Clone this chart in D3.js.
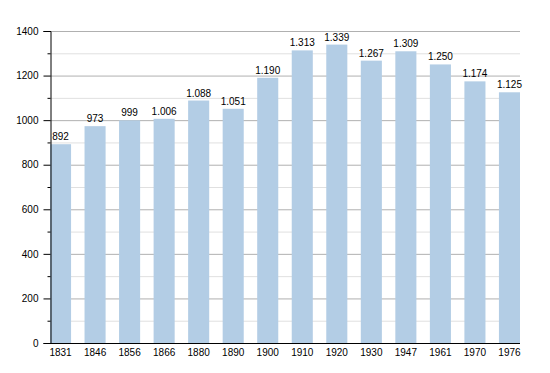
<!DOCTYPE html>
<html><head><meta charset="utf-8">
<script src="https://cdn.jsdelivr.net/npm/d3@7"></script>
<style>body{margin:0;background:#fff}svg{display:block}text{font-family:"Liberation Sans",Arial,sans-serif;font-size:10px;fill:#000}</style>
</head><body>
<svg id="c" width="550" height="373"></svg>
<script>
const years = ["1831","1846","1856","1866","1880","1890","1900","1910","1920","1930","1947","1961","1970","1976"];
const population = [892,973,999,1006,1088,1051,1190,1313,1339,1267,1309,1250,1174,1125];
const valueLabels = ["892","973","999","1.006","1.088","1.051","1.190","1.313","1.339","1.267","1.309","1.250","1.174","1.125"];
const majorTicks = [0,200,400,600,800,1000,1200,1400];
const minorTicks = [100,300,500,700,900,1100,1300];

const svg = d3.select("#c");
const mLeft = 50, mRight = 520, mTop = 31, mBottom = 343;
const FONT = "'Liberation Sans',Arial,sans-serif";
const x = d3.scaleBand().domain(years).range([mLeft, mRight]).paddingInner(0.39).paddingOuter(0);
const y = d3.scaleLinear().domain([0,1400]).range([mBottom, mTop]);

// minor gridlines
svg.append("g").selectAll("line").data(minorTicks).join("line")
  .attr("x1", mLeft).attr("x2", mRight).attr("y1", d=>y(d)+0.5).attr("y2", d=>y(d)+0.5)
  .attr("stroke", "#e0e0e0").attr("stroke-width", 1);
// major gridlines
svg.append("g").selectAll("line").data(majorTicks.filter(d=>d>0)).join("line")
  .attr("x1", mLeft).attr("x2", mRight).attr("y1", d=>y(d)+0.5).attr("y2", d=>y(d)+0.5)
  .attr("stroke", "#b0b0b0").attr("stroke-width", 1);

// bars
svg.append("g").selectAll("rect").data(years).join("rect")
  .attr("x", d=>x(d)).attr("width", x.bandwidth())
  .attr("y", (d,i)=>y(population[i])).attr("height", (d,i)=>mBottom - y(population[i]))
  .attr("fill", "#b3cde5");

// value labels
svg.append("g").selectAll("text").data(years).join("text")
  .attr("x", d=>x(d)+x.bandwidth()/2).attr("y", (d,i)=>y(population[i])-4)
  .attr("text-anchor","middle").text((d,i)=>valueLabels[i]);

// y axis
const yAxis = d3.axisLeft(y).tickValues(majorTicks).tickSize(7).tickPadding(5).tickFormat(d3.format("d"));
const gy = svg.append("g").attr("transform", `translate(${mLeft+0.5},0)`).call(yAxis);
gy.select(".domain").attr("stroke","#000");
gy.selectAll(".tick line").attr("stroke","#000");
gy.selectAll("text").style("font-family",FONT).style("font-size","10px").attr("fill","#000");
const yMinor = d3.axisLeft(y).tickValues(minorTicks).tickSize(3).tickFormat("");
const gym = svg.append("g").attr("transform", `translate(${mLeft+0.5},0)`).call(yMinor);
gym.select(".domain").remove();
gym.selectAll(".tick line").attr("stroke","#000");

// x axis
const xAxis = d3.axisBottom(x).tickSize(0).tickPadding(5);
const gx = svg.append("g").attr("transform", `translate(0,${mBottom+0.5})`).call(xAxis);
gx.select(".domain").attr("stroke","#000").attr("d", `M${mLeft},0H${mRight}`);
gx.selectAll("text").style("font-family",FONT).style("font-size","10px").attr("fill","#000");
</script>
</body></html>
